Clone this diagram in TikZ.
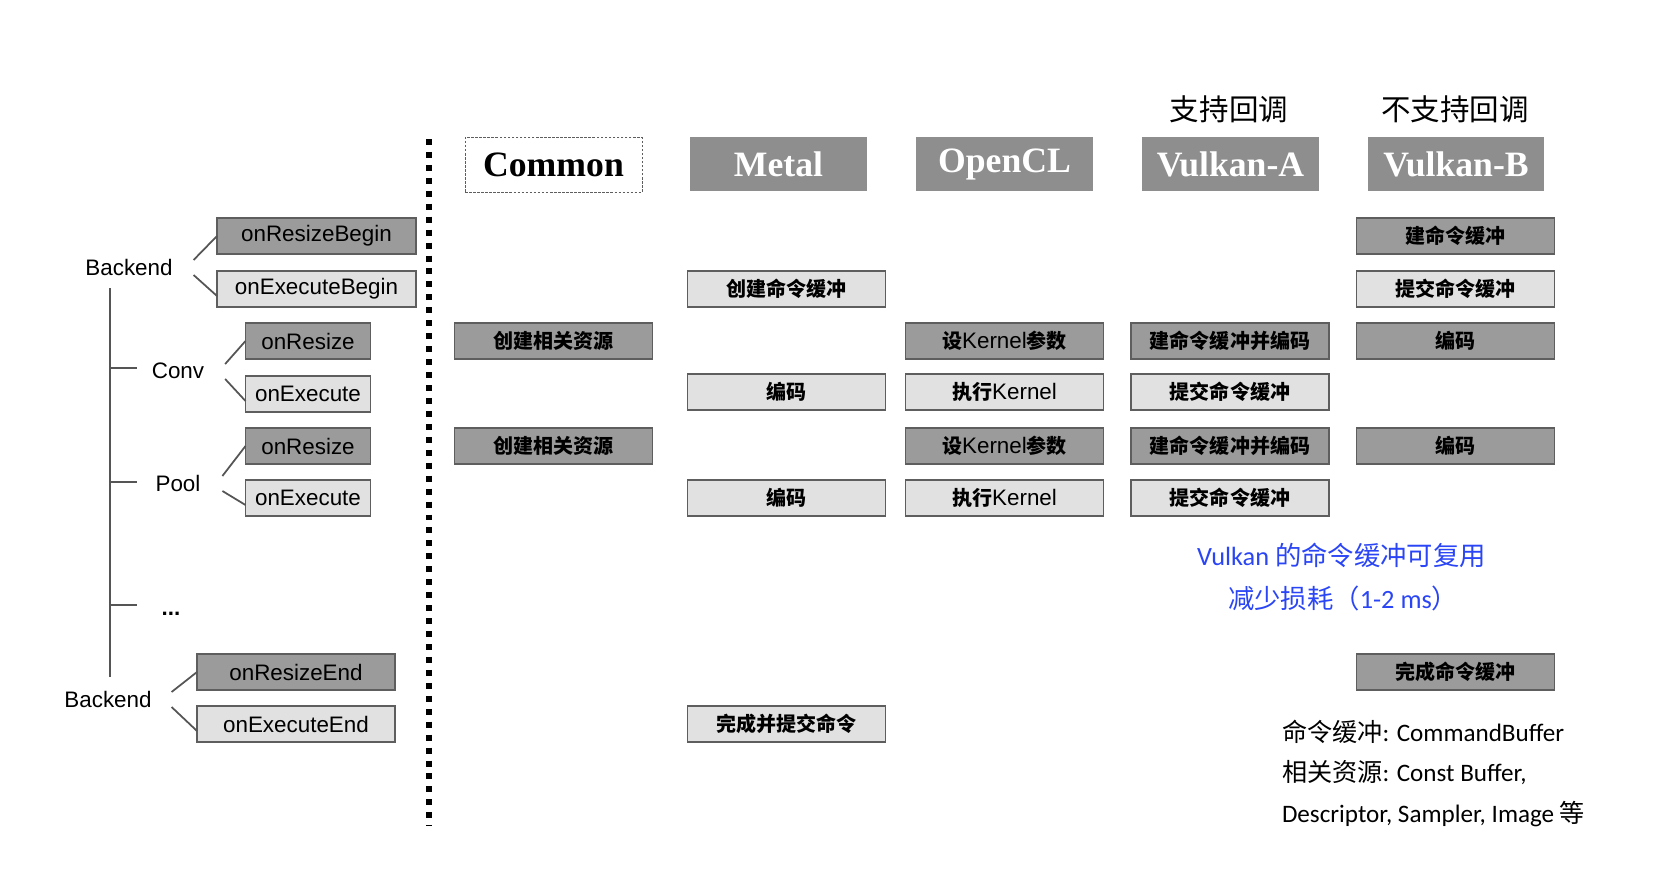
\documentclass[tikz,border=0pt]{standalone}
\usepackage{fontspec}
\setmainfont{Liberation Sans}
\newfontfamily\cjk{Noto Sans CJK SC}
\newfontfamily\headfont{Liberation Serif}
\newfontfamily\notefont{Carlito}
\usetikzlibrary{calc}

\definecolor{headgray}{HTML}{8E8E8E}
\definecolor{darkbox}{HTML}{9B9B9B}
\definecolor{lightbox}{HTML}{E1E1E1}
\definecolor{boxline}{HTML}{5E5E5E}
\definecolor{linegray}{HTML}{555555}
\definecolor{noteblue}{HTML}{2A45F5}

% Chinese text inside the boxes
\newcommand{\zh}[1]{{\cjk\bfseries\fontsize{11.4}{14}\selectfont#1}}

\begin{document}
\begin{tikzpicture}[x=0.02cm,y=-0.02cm,
  every node/.style={inner sep=0pt,outer sep=0pt},
  lbl/.style={font=\fontsize{12.75}{15}\selectfont},
  rbox/.style={draw=boxline,line width=0.9pt,fill=darkbox,minimum height=0.72cm,font=\fontsize{12.75}{15}\selectfont},
  ebox/.style={rbox,fill=lightbox},
  opbox/.style={minimum width=3.96cm},
  head/.style={fill=headgray,text=white,minimum width=3.54cm,minimum height=1.1cm,font=\headfont\bfseries\fontsize{20.3}{24}\selectfont},
  tree/.style={draw=linegray,line width=1pt},
  note/.style={anchor=base west,font=\notefont\fontsize{14.3}{17}\selectfont}]
  \useasboundingbox (0,0) rectangle (1658,876);

  % Callbacks of the backend and of the ops
  \node[lbl] (be1) at (129,267) {Backend};
  \node[rbox,minimum width=3.98cm] (rb) at (316.5,236) {onResizeBegin};
  \node[ebox,minimum width=3.98cm] (eb) at (316.5,289) {onExecuteBegin};

  \node[lbl] (conv) at (178,371) {Conv};
  \node[rbox,minimum width=2.5cm] (cres) at (308,341) {onResize};
  \node[ebox,minimum width=2.5cm] (cexe) at (308,394) {onExecute};

  \node[lbl] (pool) at (178,483) {Pool};
  \node[rbox,minimum width=2.5cm] (pres) at (308,446) {onResize};
  \node[ebox,minimum width=2.5cm] (pexe) at (308,498) {onExecute};

  \node[lbl] (dots) at (171,614) {\textbf{...}};

  \node[lbl] (be2) at (108,699) {Backend};
  \node[rbox,minimum width=3.96cm] (re) at (296,672) {onResizeEnd};
  \node[ebox,minimum width=3.96cm] (ee) at (296,724) {onExecuteEnd};

  % Lines from the labels to their boxes
  \foreach \lab/\up/\down/\gap in {be1/rb/eb/21, conv/cres/cexe/21, pool/pres/pexe/22, be2/re/ee/20}{
    \draw[tree] ($(\lab.east)+(\gap,-7)$) -- (\up.west);
    \draw[tree] ($(\lab.east)+(\gap,8)$) -- ($(\down.west)+(0,7)$);
  }

  % Trunk of the tree
  \coordinate (top) at (110,288);
  \coordinate (bot) at (110,677);
  \draw[tree] (top) -- (bot);
  \foreach \y in {368,482,605}
    \draw[tree] (110,\y) -- ++(27,0);

  % Dotted separator
  \draw[line width=3.4pt,dash pattern=on 3.4pt off 3.97pt] (429,139) -- (429,826);

  % Column headers
  \node[draw=boxline,line width=0.5pt,dash pattern=on 1.5pt off 0.8pt,fill=white,minimum width=3.54cm,minimum height=1.1cm,font=\headfont\bfseries\fontsize{20.3}{24}\selectfont] (hcom) at (553.5,165) {Common};
  \node[head] (hmet) at (778.5,164) {Metal};
  \node[head] (hocl) at (1004.5,164) {OpenCL};
  \node[head] (hvka) at (1230.5,164) {Vulkan-A};
  \node[head] (hvkb) at (1456,164) {Vulkan-B};
  \node[font=\cjk\fontsize{16.8}{20}\selectfont] (cba) at (1229,109) {支持回调};
  \node[font=\cjk\fontsize{16.8}{20}\selectfont] (cbb) at (1455,109) {不支持回调};

  % Common
  \node[rbox,opbox] (com1) at (553.5,341) {\zh{创建相关资源}};
  \node[rbox,opbox] (com2) at (553.5,446) {\zh{创建相关资源}};

  % Metal
  \node[ebox,opbox] (met1) at (786.5,289) {\zh{创建命令缓冲}};
  \node[ebox,opbox] (met2) at (786.5,392) {\zh{编码}};
  \node[ebox,opbox] (met3) at (786.5,498) {\zh{编码}};
  \node[ebox,opbox] (met4) at (786.5,724) {\zh{完成并提交命令}};

  % OpenCL
  \node[rbox,opbox] (ocl1) at (1004.5,341) {\zh{设}Kernel\zh{参数}};
  \node[ebox,opbox] (ocl2) at (1004.5,392) {\zh{执行}Kernel};
  \node[rbox,opbox] (ocl3) at (1004.5,446) {\zh{设}Kernel\zh{参数}};
  \node[ebox,opbox] (ocl4) at (1004.5,498) {\zh{执行}Kernel};

  % Vulkan-A
  \node[rbox,opbox] (vka1) at (1230,341) {\zh{建命令缓冲并编码}};
  \node[ebox,opbox] (vka2) at (1230,392) {\zh{提交命令缓冲}};
  \node[rbox,opbox] (vka3) at (1230,446) {\zh{建命令缓冲并编码}};
  \node[ebox,opbox] (vka4) at (1230,498) {\zh{提交命令缓冲}};

  % Vulkan-B
  \node[rbox,opbox] (vkb1) at (1455.5,236) {\zh{建命令缓冲}};
  \node[ebox,opbox] (vkb2) at (1455.5,289) {\zh{提交命令缓冲}};
  \node[rbox,opbox] (vkb3) at (1455.5,341) {\zh{编码}};
  \node[rbox,opbox] (vkb4) at (1455.5,446) {\zh{编码}};
  \node[rbox,opbox] (vkb5) at (1455.5,672) {\zh{完成命令缓冲}};

  % Notes
  \node[anchor=base west,text=noteblue,font=\notefont\fontsize{15}{18}\selectfont] (reuse) at (1197,565) {Vulkan {\cjk 的命令缓冲可复用}};
  \node[anchor=base west,text=noteblue,font=\notefont\fontsize{15}{18}\selectfont] (cost) at (1228,608) {{\cjk 减少损耗（}1-2 ms{\cjk ）}};
  \node[note] (n1) at (1282,741.5) {{\cjk 命令缓冲}: CommandBuffer};
  \node[note] (n2) at (1282,781.5) {{\cjk 相关资源}: Const Buffer,};
  \node[note] (n3) at (1282,822.5) {Descriptor, Sampler, Image {\cjk 等}};
\end{tikzpicture}
\end{document}
